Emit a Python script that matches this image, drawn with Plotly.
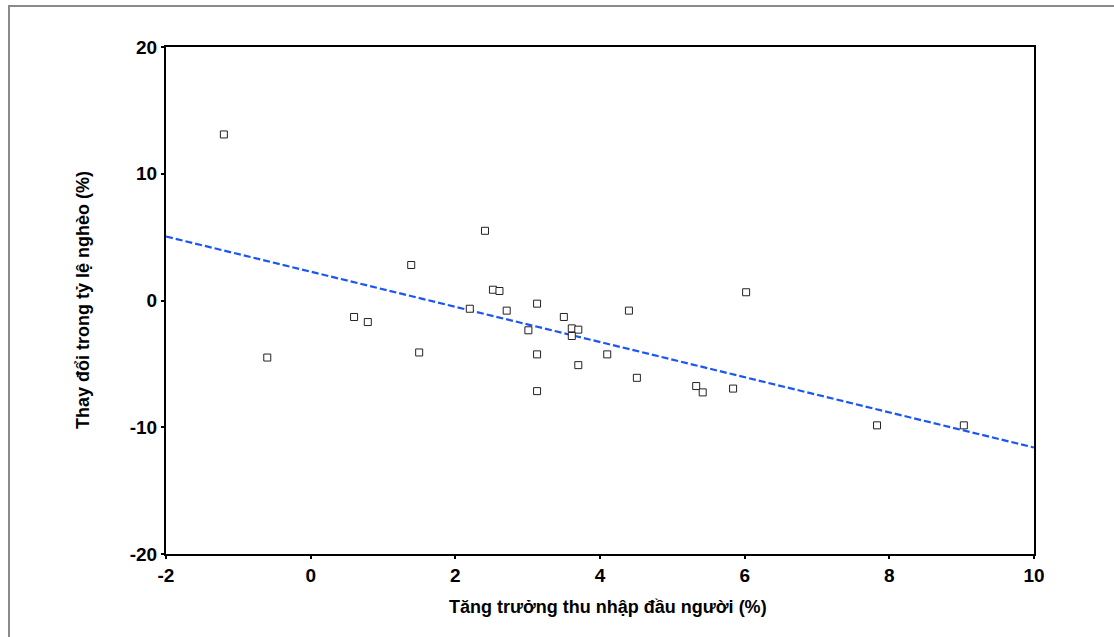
import plotly.graph_objects as go

# Data
growth = [-1.2, 2.41, 1.39, 2.52, 2.61, 2.2, 2.71, 3.13, 3.5, 3.61, 3.7, 3.01, 3.61,
          0.6, 0.79, -0.6, 1.5, 3.13, 4.1, 3.7, 3.13, 4.4, 6.02, 4.51, 5.33, 5.42,
          5.84, 7.83, 9.03]
poverty_change = [13.1, 5.5, 2.8, 0.85, 0.75, -0.65, -0.8, -0.25, -1.3, -2.2, -2.3, -2.35, -2.8,
                  -1.3, -1.7, -4.5, -4.1, -4.25, -4.25, -5.1, -7.15, -0.8, 0.65, -6.1, -6.75, -7.25,
                  -6.95, -9.85, -9.85]

fit_x = [-2, 10]
fit_y = [5.05, -11.6]

x_ticks = [-2, 0, 2, 4, 6, 8, 10]
x_ticktext = ["-2", "0", "2", "4", "6", "8", "10"]
y_ticks = [-20, -10, 0, 10, 20]
y_ticktext = ["-20", "-10", "0", "10", "20"]

x_title = "Tăng trưởng thu nhập đầu người (%)"
y_title = "Thay đổi trong tỷ lệ nghèo (%)"

W, H = 1114, 637
L, R, T, B = 166, 80, 47, 83
pw, ph = W - L - R, H - T - B

FONT = "Liberation Sans, Arial, sans-serif"

fig = go.Figure()
fig.add_trace(go.Scatter(
    x=fit_x, y=fit_y, mode="lines",
    line=dict(color="#1a56f5", width=2.2, dash="7px,3px"),
    hoverinfo="skip", showlegend=False,
))
fig.add_trace(go.Scatter(
    x=growth, y=poverty_change, mode="markers",
    marker=dict(symbol="square", size=7, color="white",
                line=dict(color="#222222", width=1)),
    showlegend=False,
))

axis_common = dict(
    showgrid=False, zeroline=False, showline=True, linecolor="black",
    linewidth=2, mirror=True, ticks="outside", ticklen=3, tickwidth=2,
    tickcolor="black",
    tickfont=dict(family=FONT, size=19, color="black", weight="bold"),
)

title_font = dict(family=FONT, size=18, color="black", weight="bold")

fig.update_layout(
    width=W, height=H,
    margin=dict(l=L, r=R, t=T, b=B, pad=0),
    paper_bgcolor="white", plot_bgcolor="white",
    xaxis=dict(range=[-2, 10], tickvals=x_ticks, ticktext=x_ticktext, **axis_common),
    yaxis=dict(range=[-20, 20], tickvals=y_ticks, ticktext=y_ticktext, **axis_common),
    annotations=[
        dict(text=x_title, xref="paper", yref="paper",
             x=(608 - L) / pw, y=(H - B - 607) / ph,
             xanchor="center", yanchor="middle", showarrow=False, font=title_font),
        dict(text=y_title, xref="paper", yref="paper",
             x=(83 - L) / pw, y=(H - B - 300) / ph, textangle=-90,
             xanchor="center", yanchor="middle", showarrow=False, font=title_font),
    ],
    shapes=[dict(
        type="rect", xref="paper", yref="paper",
        x0=(9 - L) / pw, x1=(1200 - L) / pw,
        y0=(H - B - 700) / ph, y1=(H - B - 6) / ph,
        line=dict(color="#8a8a8a", width=2), fillcolor="rgba(0,0,0,0)",
        layer="below",
    )],
)

fig.write_html("out.html", config={"displayModeBar": False},
               post_script="document.body.style.margin='0px';")
